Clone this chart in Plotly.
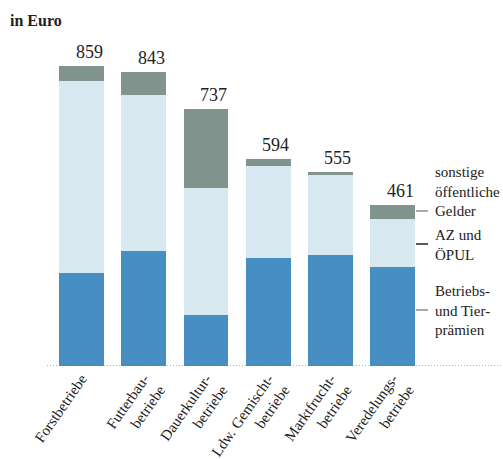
import plotly.graph_objects as go

categories = ["Forstbetriebe", "Futterbau-<br>betriebe", "Dauerkultur-<br>betriebe",
              "Ldw. Gemischt-<br>betriebe", "Marktfrucht-<br>betriebe", "Veredelungs-<br>betriebe"]
betriebs_tierpraemien = [266, 329, 146, 310, 318, 284]
az_oepul = [550, 447, 365, 263, 230, 137]
sonstige = [43, 67, 226, 21, 7, 40]
totals = [859, 843, 737, 594, 555, 461]

C_BLUE = "#478ec2"
C_LIGHT = "#d8e8f1"
C_GRAY = "#80938c"
FONT = "Liberation Serif"

W, H = 503, 459
ML, MR, MT, MB = 47, 73, 40, 93
PW = W - ML - MR
PH = H - MT - MB

xidx = list(range(len(categories)))

fig = go.Figure()
for vals, col, name in [(betriebs_tierpraemien, C_BLUE, "Betriebs- und Tierprämien"),
                        (az_oepul, C_LIGHT, "AZ und ÖPUL"),
                        (sonstige, C_GRAY, "sonstige öffentliche Gelder")]:
    fig.add_trace(go.Bar(x=xidx, y=vals, marker=dict(color=col, line=dict(width=0)),
                         width=0.72, name=name, showlegend=False, hoverinfo="skip"))

for i, t in enumerate(totals):
    fig.add_annotation(x=i, y=t, text=str(t), showarrow=False, xanchor="center",
                       yanchor="bottom", xshift=7.5, yshift=2,
                       font=dict(family=FONT, size=18, color="#222"))

def px2paper(px):
    return (px - ML) / PW

def py2paper(py):
    return (H - MB - py) / PH

# baseline dotted line
fig.add_shape(type="line", xref="paper", yref="y", x0=0, x1=px2paper(503), y0=0, y1=0,
              line=dict(color="#666", width=1, dash="1px,2px"))

# legend dashes and labels
legend_items = [
    ("sonstige<br>öffentliche<br>Gelder", 211, 191, C_GRAY),
    ("AZ und<br>ÖPUL", 244, 244.5, "#222"),
    ("Betriebs-<br>und Tier-<br>prämien", 310, 310, C_GRAY),
]
for text, dash_y, text_y, dcol in legend_items:
    fig.add_shape(type="line", xref="paper", yref="paper",
                  x0=px2paper(416), x1=px2paper(428), y0=py2paper(dash_y), y1=py2paper(dash_y),
                  line=dict(color=dcol, width=1.5))
    fig.add_annotation(xref="paper", yref="paper", x=px2paper(433), y=py2paper(text_y),
                       text=text, showarrow=False, xanchor="left", yanchor="middle", align="left",
                       font=dict(family=FONT, size=15, color="#222"))

fig.add_annotation(xref="paper", yref="paper", x=px2paper(8), y=py2paper(21),
                   text="<b>in Euro</b>", showarrow=False, xanchor="left", yanchor="middle",
                   font=dict(family=FONT, size=16, color="#222"))

fig.update_layout(
    width=W, height=H, barmode="stack", bargap=0,
    margin=dict(l=ML, r=MR, t=MT, b=MB, autoexpand=False),
    plot_bgcolor="white", paper_bgcolor="white",
    xaxis=dict(range=[-0.555, 5.603], tickvals=xidx, ticktext=categories, tickangle=-55,
               showgrid=False, zeroline=False, showline=False, ticks="",
               tickfont=dict(family=FONT, size=15, color="#222")),
    yaxis=dict(range=[0, 933.6], visible=False, showgrid=False, zeroline=False),
)

fig.write_html("out.html", config={"displayModeBar": False},
               post_script="document.body.style.margin='0';document.body.style.overflow='hidden';")
